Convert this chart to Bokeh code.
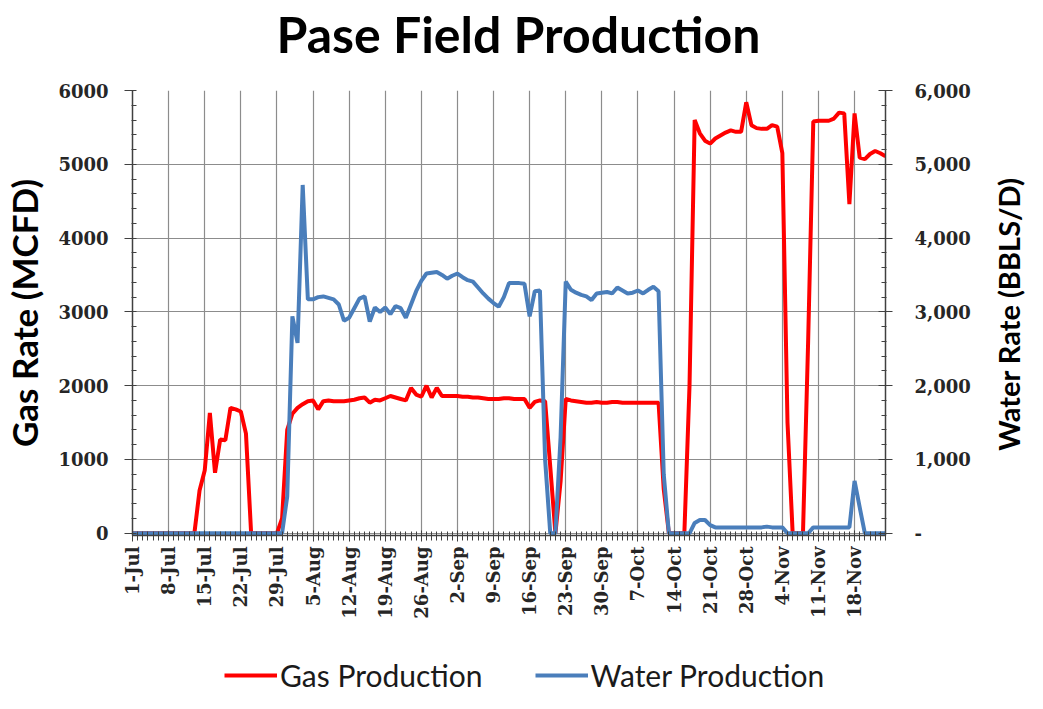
import math
import pandas as pd
from bokeh.plotting import figure
from bokeh.layouts import column, row
from bokeh.models import Range1d, LinearAxis, FixedTicker, Legend, LegendItem
from bokeh.core.properties import value
from bokeh.embed import file_html
from bokeh.resources import INLINE

# ---------------- data ----------------
start_date = "2012-07-01"

gas = [
    0, 0, 0, 0, 0, 0, 0, 0, 0, 0,
    0, 0, 0, 580, 850, 1630, 820, 1270, 1260, 1700,
    1680, 1650, 1350, 0, 0, 0, 0, 0, 0, 200,
    1400, 1620, 1700, 1750, 1790, 1800, 1680, 1790, 1800, 1790,
    1790, 1790, 1800, 1810, 1830, 1840, 1770, 1810, 1800, 1830,
    1860, 1840, 1820, 1800, 1970, 1880, 1850, 2000, 1840, 1970,
    1860, 1860, 1860, 1860, 1850, 1850, 1840, 1840, 1830, 1820,
    1820, 1820, 1830, 1830, 1820, 1820, 1820, 1700, 1780, 1800,
    1790, 900, 0, 700, 1820, 1800, 1790, 1780, 1770, 1770,
    1780, 1770, 1770, 1780, 1780, 1770, 1770, 1770, 1770, 1770,
    1770, 1770, 1770, 600, 0, 0, 0, 0, 2000, 5600,
    5420, 5320, 5280, 5350, 5390, 5430, 5460, 5440, 5440, 5840,
    5530, 5490, 5480, 5480, 5530, 5510, 5150, 1500, 0, 0,
    0, 2600, 5580, 5590, 5590, 5590, 5620, 5700, 5690, 4460,
    5690, 5090, 5070, 5140, 5180, 5150, 5110,
]

water = [
    0, 0, 0, 0, 0, 0, 0, 0, 0, 0,
    0, 0, 0, 0, 0, 0, 0, 0, 0, 0,
    0, 0, 0, 0, 0, 0, 0, 0, 0, 0,
    500, 2940, 2580, 4720, 3170, 3170, 3200, 3210, 3190, 3170,
    3100, 2880, 2920, 3050, 3180, 3210, 2870, 3060, 3000, 3060,
    2970, 3080, 3050, 2920, 3100, 3280, 3420, 3520, 3530, 3540,
    3500, 3450, 3490, 3520, 3470, 3430, 3410, 3330, 3250, 3180,
    3120, 3070, 3200, 3390, 3390, 3390, 3380, 2940, 3280, 3290,
    1000, 0, 0, 1300, 3410, 3300, 3260, 3230, 3210, 3160,
    3250, 3260, 3270, 3250, 3330, 3290, 3250, 3260, 3290, 3250,
    3300, 3340, 3280, 800, 0, 0, 0, 0, 0, 140,
    180, 180, 110, 80, 80, 80, 80, 80, 80, 80,
    80, 80, 80, 90, 80, 80, 80, 0, 0, 0,
    0, 0, 80, 80, 80, 80, 80, 80, 80, 80,
    710, 350, 0, 0, 0, 0, 0,
]

x_tick_labels = ["1-Jul", "8-Jul", "15-Jul", "22-Jul", "29-Jul", "5-Aug", "12-Aug",
                 "19-Aug", "26-Aug", "2-Sep", "9-Sep", "16-Sep", "23-Sep", "30-Sep",
                 "7-Oct", "14-Oct", "21-Oct", "28-Oct", "4-Nov", "11-Nov", "18-Nov"]

gas_ticks = [0, 1000, 2000, 3000, 4000, 5000, 6000]
gas_tick_labels = ["0", "1000", "2000", "3000", "4000", "5000", "6000"]
water_tick_labels = ["-", "1,000", "2,000", "3,000", "4,000", "5,000", "6,000"]

title_text = "Pase Field Production"
gas_axis_title = "Gas Rate (MCFD)"
water_axis_title = "Water Rate (BBLS/D)"
series_names = ["Gas Production", "Water Production"]
series_colors = ["#ff0000", "#4a7ebb"]

# ---------------- derived positions ----------------
dates = pd.date_range(start_date, periods=len(gas), freq="D")
day = list(range(len(gas)))
tick_days = [int((pd.to_datetime(f"{lab}-2012", format="%d-%b-%Y") - dates[0]).days)
             for lab in x_tick_labels]

# ---------------- layout constants (px) ----------------
W_MAIN, W_RIGHT = 977, 50
H_TITLE, H_MAIN, H_BOTTOM = 82, 553, 58
BORDER_L, BORDER_R = 128, 92
H_ALL = H_TITLE + H_MAIN + H_BOTTOM

tick_font = "DejaVu Serif"
tick_color = "#262626"
axis_color = "#404040"

x_range = Range1d(0, len(gas) - 1)
y_range = Range1d(-30, 6000)

# ---------------- title strip ----------------
pt = figure(width=W_MAIN, height=H_TITLE, output_backend="svg", toolbar_location=None,
            x_range=x_range, y_range=Range1d(0, H_TITLE),
            x_axis_type=None, y_axis_type=None, min_border=0,
            min_border_left=BORDER_L, min_border_right=BORDER_R)
pt.outline_line_color = None
pt.grid.visible = False
pt.text(x=[x_range.start], y=[49], text=[title_text], x_offset=144,
        text_align="left", text_baseline="alphabetic",
        text_font=value("Lato"), text_font_style="bold", text_font_size="50px",
        text_color="black")

# ---------------- main figure ----------------
p = figure(width=W_MAIN, height=H_MAIN, output_backend="svg", toolbar_location=None,
           x_range=x_range, y_range=y_range,
           min_border_left=BORDER_L, min_border_right=BORDER_R, min_border_top=8,
           min_border_bottom=H_MAIN - 8 - 445)
p.extra_y_ranges = {"water": Range1d(-30, 6000)}
p.outline_line_color = None
p.background_fill_color = "white"
p.border_fill_color = "white"

# x axis
xa = p.xaxis[0]
xa.ticker = FixedTicker(ticks=tick_days, minor_ticks=day)
xa.major_label_overrides = {d: lab for d, lab in zip(tick_days, x_tick_labels)}
xa.major_label_orientation = math.pi / 2
xa.major_label_text_font = tick_font
xa.major_label_text_font_size = "18px"
xa.major_label_text_font_style = "bold"
xa.major_label_text_color = tick_color
xa.major_label_standoff = 5
xa.axis_line_color = axis_color
xa.axis_line_width = 1.5
xa.major_tick_line_color = axis_color
xa.major_tick_in = 5
xa.major_tick_out = 6
xa.minor_tick_line_color = axis_color
xa.minor_tick_in = 4
xa.minor_tick_out = 5

# left y axis (gas)
ya = p.yaxis[0]
ya.ticker = FixedTicker(ticks=gas_ticks, minor_ticks=list(range(0, 6001, 200)))
ya.major_label_overrides = {t: lab for t, lab in zip(gas_ticks, gas_tick_labels)}
ya.axis_label = gas_axis_title
ya.axis_label_text_font = "Lato"
ya.axis_label_text_font_size = "35px"
ya.axis_label_text_font_style = "bold"
ya.axis_label_text_color = "black"
ya.axis_label_standoff = 10
ya.major_label_text_font = tick_font
ya.major_label_text_font_size = "18px"
ya.major_label_text_font_style = "bold"
ya.major_label_text_color = tick_color
ya.major_label_standoff = 16
ya.axis_line_color = axis_color
ya.axis_line_width = 1.5
ya.major_tick_line_color = axis_color
ya.major_tick_in = 2
ya.major_tick_out = 8
ya.minor_tick_line_color = axis_color
ya.minor_tick_in = 4
ya.minor_tick_out = 1

# right y axis (water)
yr = LinearAxis(y_range_name="water",
                ticker=FixedTicker(ticks=gas_ticks, minor_ticks=list(range(0, 6001, 200))))
yr.major_label_overrides = {t: lab for t, lab in zip(gas_ticks, water_tick_labels)}
yr.major_label_text_font = tick_font
yr.major_label_text_font_size = "18px"
yr.major_label_text_font_style = "bold"
yr.major_label_text_color = tick_color
yr.major_label_standoff = 22
yr.axis_line_color = axis_color
yr.axis_line_width = 1.5
yr.major_tick_line_color = axis_color
yr.major_tick_in = 7
yr.major_tick_out = 7
yr.minor_tick_line_color = axis_color
yr.minor_tick_in = 4
yr.minor_tick_out = 1
p.add_layout(yr, "right")

# grids
p.xgrid.grid_line_color = "#8c8c8c"
p.xgrid.grid_line_width = 1.2
p.ygrid.grid_line_color = "#8c8c8c"
p.ygrid.grid_line_width = 1.2

# lines
r_gas = p.line(day, gas, line_color=series_colors[0], line_width=4)
r_water = p.line(day, water, line_color=series_colors[1], line_width=4,
                 y_range_name="water")

# ---------------- bottom strip: legend ----------------
pb = figure(width=W_MAIN, height=H_BOTTOM, output_backend="svg", toolbar_location=None,
            x_range=x_range, y_range=Range1d(0, H_BOTTOM),
            x_axis_type=None, y_axis_type=None, min_border=0,
            min_border_left=BORDER_L, min_border_right=BORDER_R)
pb.outline_line_color = None
pb.grid.visible = False
nan = float("nan")
lg_gas = pb.line([nan], [nan], line_color=series_colors[0], line_width=4)
lg_water = pb.line([nan], [nan], line_color=series_colors[1], line_width=4)
legend = Legend(items=[LegendItem(label=series_names[0], renderers=[lg_gas]),
                       LegendItem(label=series_names[1], renderers=[lg_water])],
                orientation="horizontal", location=(92, 0))
legend.border_line_color = None
legend.background_fill_alpha = 0
legend.padding = 0
legend.margin = 0
legend.glyph_width = 53
legend.glyph_height = 30
legend.label_standoff = 3
legend.spacing = 52
legend.label_text_font = "Lato"
legend.label_text_font_size = "30px"
legend.label_text_color = "#1a1a1a"
pb.add_layout(legend, "center")

# ---------------- right strip: water axis title ----------------
pr = figure(width=W_RIGHT, height=H_ALL, output_backend="svg", toolbar_location=None,
            x_range=Range1d(0, 1), y_range=y_range,
            x_axis_type=None, y_axis_type=None, min_border=0,
            min_border_top=H_TITLE + 8, min_border_bottom=H_ALL - H_TITLE - 8 - 445)
pr.outline_line_color = None
pr.grid.visible = False
pr.text(x=[0.62], y=[2970], text=[water_axis_title], angle=math.pi / 2,
        text_align="center", text_baseline="middle",
        text_font=value("Lato"), text_font_style="bold", text_font_size="29px",
        text_color="black")

layout = row(column(pt, p, pb, spacing=0), pr, spacing=0)
open("out.html", "w").write(file_html(layout, INLINE))
